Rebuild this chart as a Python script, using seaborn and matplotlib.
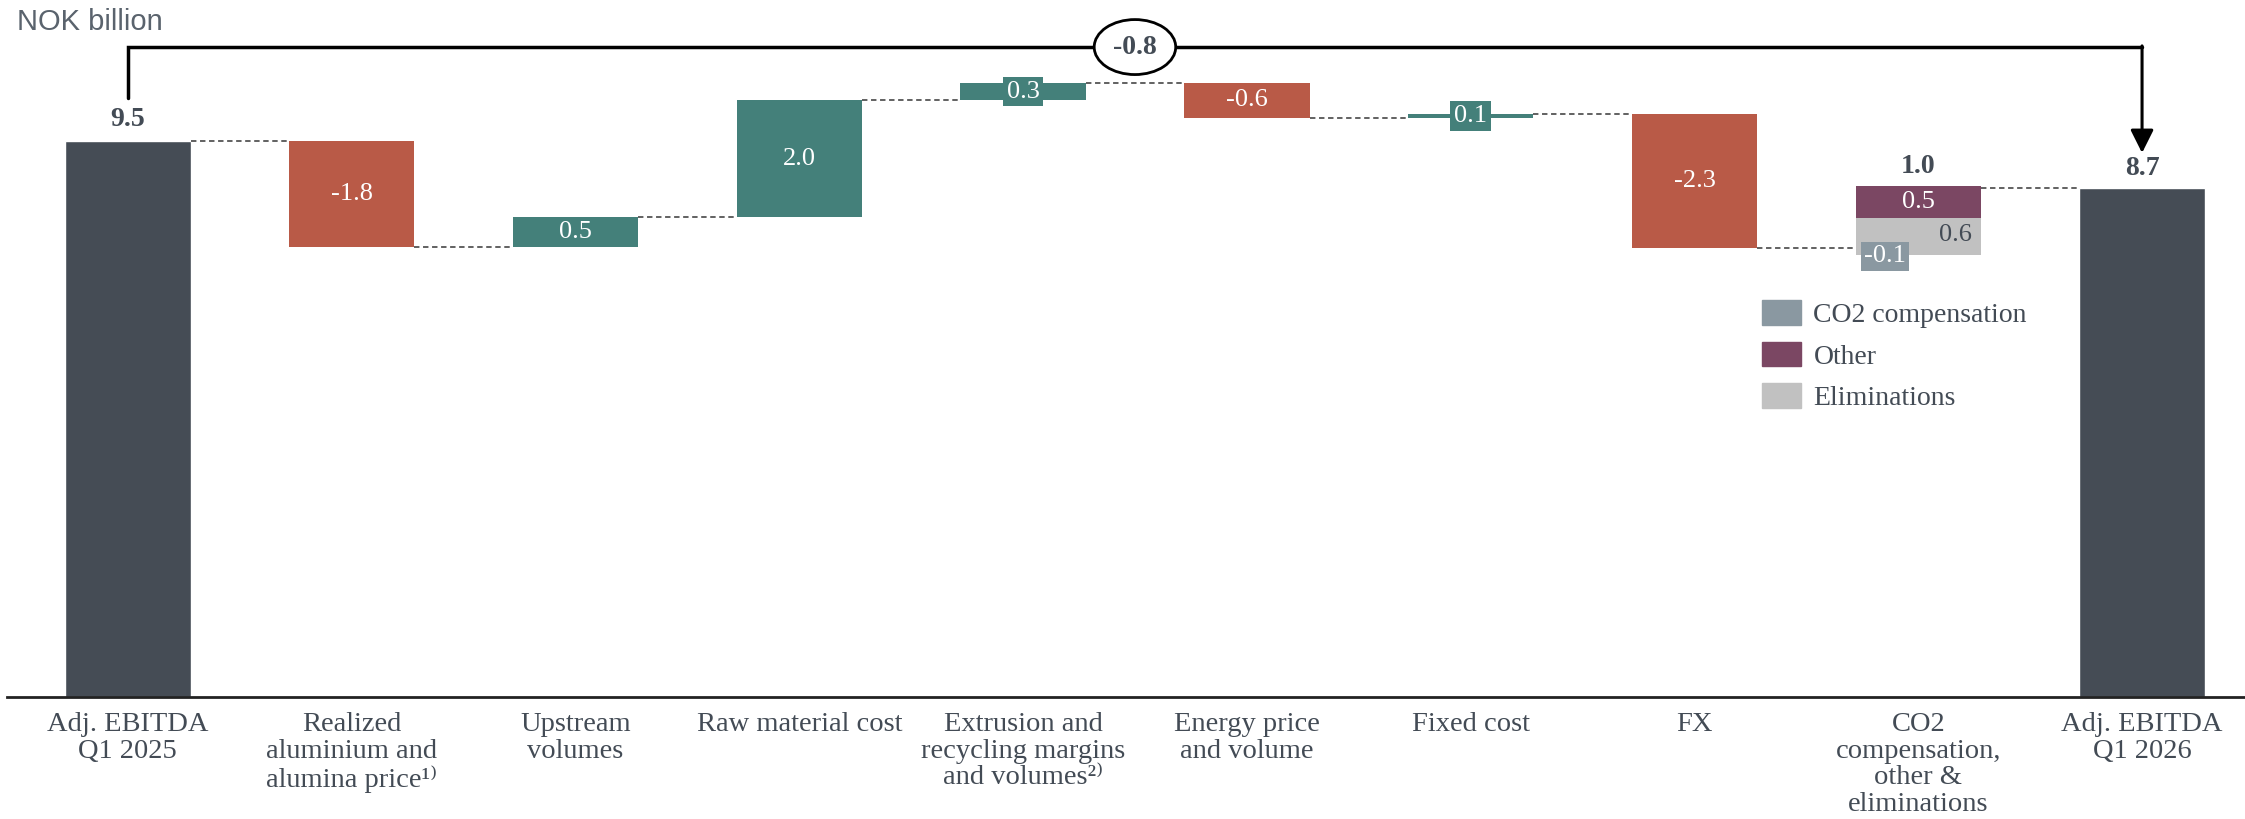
import numpy as np
import pandas as pd
import seaborn as sns
import matplotlib.pyplot as plt
from matplotlib.patches import Patch

# Waterfall - Adj. EBITDA bridge

categories = ["Adj. EBITDA\nQ1 2025",
              "Realized\naluminium and\nalumina price¹⁾",
              "Upstream\nvolumes",
              "Raw material cost",
              "Extrusion and\nrecycling margins\nand volumes²⁾",
              "Energy price\nand volume",
              "Fixed cost",
              "FX",
              "CO2\ncompensation,\nother &\neliminations",
              "Adj. EBITDA\nQ1 2026"]

start_value = 9.5
end_value = 8.7
deltas = [-1.8, 0.5, 2.0, 0.3, -0.6, 0.07, -2.3]
delta_labels = ["-1.8", "0.5", "2.0", "0.3", "-0.6", "0.1", "-2.3"]

stack_names = ["CO2 compensation", "Eliminations", "Other"]
stack_values = [-0.12, 0.63, 0.55]
stack_labels = ["-0.1", "0.6", "0.5"]
stack_total_label = "1.0"
bridge_label = "-0.8"

dark = "#454c55"
red = "#b95a47"
teal = "#44807a"
stack_colors = {"CO2 compensation": "#8a98a1", "Other": "#7b4763", "Eliminations": "#c1c1c1"}
text_col = "#434b55"

sns.set_theme(style="white")
plt.rcParams['font.family'] = ['Liberation Serif', 'DejaVu Serif']

fig = plt.figure(figsize=(22.45, 8.19), dpi=100)
ax = fig.add_axes([7 / 2245, 122 / 819, 2238 / 2245, 677 / 819])

w = 0.56
x = np.arange(len(categories))

# totals
tot = pd.DataFrame({"cat": [categories[0], categories[-1]], "val": [start_value, end_value]})
sns.barplot(data=tot, x="cat", y="val", order=categories, color=dark, width=w,
            saturation=1, ax=ax)

# floating bars
level = start_value
levels = [level]
for i, d in enumerate(deltas):
    c = teal if d > 0 else red
    ax.bar(x[i + 1], d, bottom=level, width=w, color=c, linewidth=0)
    mid = level + d / 2
    if abs(d) < 0.4:
        ax.text(x[i + 1], mid, delta_labels[i], ha="center", va="center", color="white",
                fontsize=19, bbox=dict(boxstyle="square,pad=0.15", fc=c, ec="none"))
    else:
        ax.text(x[i + 1], mid, delta_labels[i], ha="center", va="center", color="white",
                fontsize=19)
    level += d
    levels.append(level)

# stacked bar
xs = x[8]
co2, elim, oth = stack_values
ax.bar(xs, co2, bottom=level, width=w, color=stack_colors["CO2 compensation"], linewidth=0)
b = level + co2
ax.bar(xs, elim, bottom=b, width=w, color=stack_colors["Eliminations"], linewidth=0)
ax.text(xs + w / 2 - 0.04, b + elim / 2 + 0.03, stack_labels[1], ha="right", va="center",
        color=text_col, fontsize=19)
b += elim
ax.bar(xs, oth, bottom=b, width=w, color=stack_colors["Other"], linewidth=0)
ax.text(xs, b + oth / 2, stack_labels[2], ha="center", va="center", color="white", fontsize=19)
b += oth
ax.text(xs - 0.15, level - 0.14, stack_labels[0], ha="center", va="center", color="white",
        fontsize=19, bbox=dict(boxstyle="square,pad=0.12", fc=stack_colors["CO2 compensation"], ec="none"))
ax.text(xs, b + 0.33, stack_total_label, ha="center", va="center", color=text_col,
        fontsize=20, fontweight="bold")
levels.append(end_value)

# connectors
for i in range(len(categories) - 1):
    ax.plot([x[i] + w / 2, x[i + 1] - w / 2], [levels[i], levels[i]], ls=(0, (3, 2)),
            color="#555555", lw=1.3)

# total labels
ax.text(x[0], start_value + 0.38, f"{start_value:.1f}", ha="center", va="center",
        color=text_col, fontsize=20, fontweight="bold")
ax.text(x[-1], end_value + 0.33, f"{end_value:.1f}", ha="center", va="center",
        color=text_col, fontsize=20, fontweight="bold")

# bridge bracket
ytop = 11.11
ax.plot([x[0], x[0], x[-1]], [10.24, ytop, ytop], color="black", lw=2.5, clip_on=False,
        solid_joinstyle="miter")
ax.annotate("", xy=(x[-1], 9.30), xytext=(x[-1], ytop + 0.02),
            arrowprops=dict(arrowstyle="-|>,head_length=0.7,head_width=0.35", color="black",
                            lw=2.2, shrinkA=0, shrinkB=0, mutation_scale=20))
ax.text((x[0] + x[-1]) / 2, ytop, bridge_label, ha="center", va="center", color=text_col,
        fontsize=20, fontweight="bold",
        bbox=dict(boxstyle="ellipse,pad=0.25", fc="white", ec="black", lw=2))

# legend
handles = [Patch(color=stack_colors[n], label=n) for n in ["CO2 compensation", "Other", "Eliminations"]]
leg = ax.legend(handles=handles, loc="upper left", bbox_to_anchor=(1755 / 2238, 0.586),
                frameon=False, fontsize=20, handlelength=1.4, handleheight=1.0,
                handletextpad=0.45, labelspacing=0.48, borderaxespad=0, borderpad=0)
for t in leg.get_texts():
    t.set_color(text_col)

ax.set_xlim(-0.54, 9.46)
ax.set_ylim(0, 677 / 58.5)
ax.set_xticks(x)
ax.set_xticklabels(categories, fontsize=20.5, color=text_col, linespacing=1.08, va="top")
ax.tick_params(axis="x", length=0, pad=11)
ax.set_yticks([])
ax.set_xlabel("")
ax.set_ylabel("")
for s in ["top", "right", "left"]:
    ax.spines[s].set_visible(False)
ax.spines["bottom"].set_color("#222222")
ax.spines["bottom"].set_linewidth(2)

fig.text(17 / 2245, 1 - 8 / 819, "NOK billion", ha="left", va="top", fontsize=21,
         color="#5a636d", family=["Liberation Sans", "DejaVu Sans"])

fig.savefig("out.png", dpi=100)
